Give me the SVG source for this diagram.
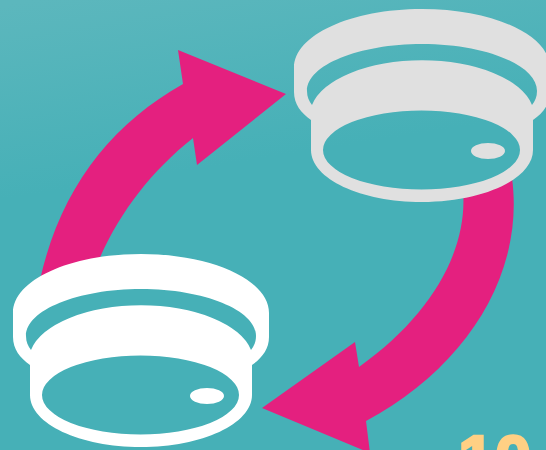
<svg xmlns="http://www.w3.org/2000/svg" width="546" height="450" viewBox="0 0 546 450">
<defs>
<linearGradient id="bg" gradientUnits="userSpaceOnUse" x1="160" y1="-20" x2="190" y2="170"><stop offset="0" stop-color="#5CB7BD"/><stop offset="1" stop-color="#46B0B7"/></linearGradient>
<g id="det">
<path fill-rule="evenodd" d="M294 68C294 35 351 9 422 9S550 35 550 68V92C550 104 543 113 533 120V150C533 179 483 202 422 202S311 179 311 150V120C301 113 294 104 294 92Z M307 91C307 97 309 101 312 105A112 55 0 0 1 532 105C535 101 537 97 537 91C537 65 485 44 422 44S307 65 307 91Z M323 150A98.500 39.500 0 0 0 520 150A98.500 39.500 0 0 0 323 150Z M471 151A17 8 0 0 0 505 151A17 8 0 0 0 471 151Z"/>
</g>
</defs>
<style>.arrow{fill:#E4207F}.num{font-family:"Liberation Sans",Arial,sans-serif;font-weight:700;font-size:66px;fill:#FFD084;stroke:#FFD084;stroke-width:2.500}</style>
<rect width="546" height="450" fill="url(#bg)"/>
<g id="connectors">
<path class="arrow" d="M40 280C60 190 110 125 183 84L178 50L286 94L197 165L193 138C150 172 118 215 98 262Z"/>
<path class="arrow" d="M512 178C525 275 465 368 366 421L370 453L262 408L355 342L359 367C432 315 468 250 463 190Z"/>
</g>
<g id="detector-grey" fill="#E0E0E0"><use href="#det"/></g>
<g id="detector-white" fill="#FFFFFF"><use href="#det" x="-281" y="245"/></g>
<g id="number"><text class="num" x="458" y="482">10</text></g>
</svg>
